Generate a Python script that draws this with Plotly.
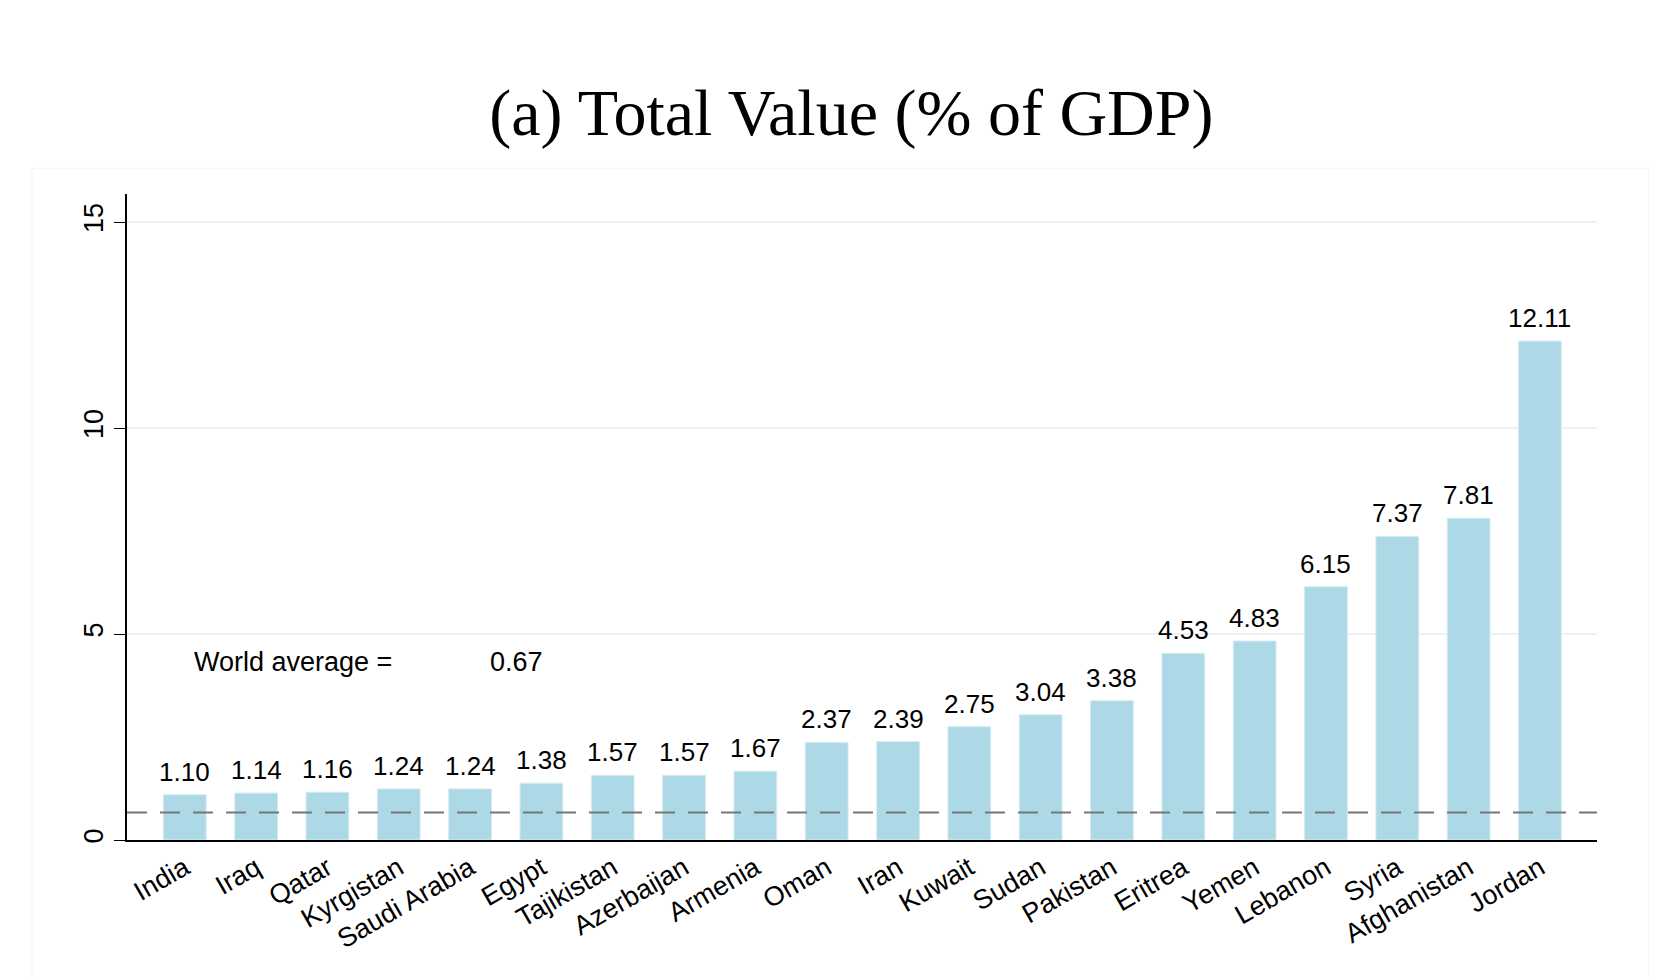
import plotly.graph_objects as go

countries = ["India", "Iraq", "Qatar", "Kyrgistan", "Saudi Arabia", "Egypt", "Tajikistan",
             "Azerbaijan", "Armenia", "Oman", "Iran", "Kuwait", "Sudan", "Pakistan",
             "Eritrea", "Yemen", "Lebanon", "Syria", "Afghanistan", "Jordan"]
values = [1.10, 1.14, 1.16, 1.24, 1.24, 1.38, 1.57, 1.57, 1.67, 2.37, 2.39, 2.75,
          3.04, 3.38, 4.53, 4.83, 6.15, 7.37, 7.81, 12.11]
world_avg = 0.67
y_ticks = [0, 5, 10, 15]
title_text = "(a) Total Value (% of GDP)"

FONT = "Liberation Sans, Arial, sans-serif"
fig = go.Figure()
fig.add_trace(go.Bar(
    x=countries, y=values, width=0.6,
    marker=dict(color="#add8e6", line=dict(color="#d6ecf2", width=1)),
    hoverinfo="x+y", showlegend=False,
))

for c, v in zip(countries, values):
    fig.add_annotation(x=c, y=v, text=f"{v:.2f}", showarrow=False,
                       yanchor="bottom", yshift=6,
                       font=dict(family=FONT, size=26, color="black"))

# world average dashed line
fig.add_shape(type="line", xref="paper", yref="y", x0=0, x1=1, y0=world_avg, y1=world_avg,
              line=dict(color="#777777", width=2, dash="20px,13px"), layer="above")

fig.add_annotation(xref="paper", yref="y", x=0.044, y=4.32, text="World average =",
                   showarrow=False, xanchor="left", yanchor="middle",
                   font=dict(family=FONT, size=27, color="black"))
fig.add_annotation(xref="paper", yref="y", x=0.2456, y=4.32, text=f"{world_avg:.2f}",
                   showarrow=False, xanchor="left", yanchor="middle",
                   font=dict(family=FONT, size=27, color="black"))

# faint outer plot-region frame
fig.add_shape(type="rect", xref="paper", yref="paper", x0=-0.0646, x1=1.035, y0=-0.3, y1=1.040,
              line=dict(color="#f1f5f5", width=1), fillcolor="rgba(0,0,0,0)", layer="below")

fig.update_layout(
    width=1666, height=977,
    margin=dict(l=127, r=69, t=194, b=137),
    paper_bgcolor="white", plot_bgcolor="white",
    title=dict(text=title_text, x=0.511, xref="container", y=1 - 112 / 977, yref="container",
               xanchor="center", yanchor="middle",
               font=dict(family="Liberation Serif, Times New Roman, serif", size=66, color="black")),
    bargap=0.4,
    font=dict(family=FONT, size=27, color="black"),
)
fig.update_xaxes(
    range=[-0.81, 19.8], tickangle=-30, showgrid=False,
    showline=True, linecolor="black", linewidth=1.5, ticks="",
    tickfont=dict(family=FONT, size=27, color="black"),
)
fig.update_yaxes(
    range=[0, 15.68], tickvals=y_ticks, ticktext=[str(t) for t in y_ticks],
    tickangle=-90, ticks="outside", ticklen=11, tickcolor="black", tickwidth=1.2,
    showline=True, linecolor="black", linewidth=1.5,
    showgrid=True, gridcolor="#eaf2f3", gridwidth=1.5, zeroline=False,
    tickfont=dict(family=FONT, size=27, color="black"),
)
fig.write_html("out.html")
